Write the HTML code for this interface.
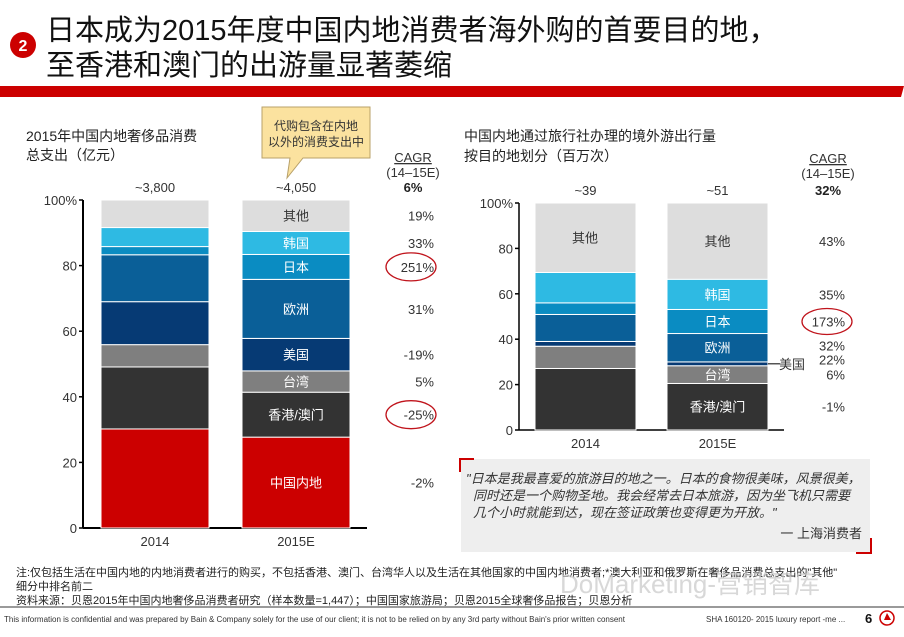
<!DOCTYPE html>
<html><head><meta charset="utf-8">
<style>
html,body{margin:0;padding:0;background:#fff;}
body{width:904px;height:637px;overflow:hidden;position:relative;font-family:"Liberation Sans","Noto Sans CJK SC",sans-serif;}
svg{position:absolute;left:0;top:0;}
text{font-family:"Liberation Sans","Noto Sans CJK SC",sans-serif;}
</style></head>
<body>
<svg id="s" width="904" height="637" viewBox="0 0 904 637">
  <circle cx="23" cy="45" r="13" fill="#cc0000"/>
  <text x="23" y="51" font-size="16" font-weight="bold" fill="#fff" text-anchor="middle">2</text>
  <text x="46" y="40" font-size="29" fill="#111">日本成为2015年度中国内地消费者海外购的首要目的地，</text>
  <text x="46" y="75" font-size="29" fill="#111">至香港和澳门的出游量显著萎缩</text>
  <polygon points="0,86 904,86 901,97 0,97" fill="#cc0000"/>

  <text x="26" y="141" font-size="14" fill="#222">2015年中国内地奢侈品消费</text>
  <text x="26" y="160" font-size="14" fill="#222">总支出（亿元）</text>
  <g>
    <path d="M262,107 H370 V158 H303 L287,178 L290,158 H262 Z" fill="#fbe29f" stroke="#b8a16a" stroke-width="1"/>
    <text x="316" y="130" font-size="12" fill="#333" text-anchor="middle">代购包含在内地</text>
    <text x="316" y="146" font-size="12" fill="#333" text-anchor="middle">以外的消费支出中</text>
  </g>
  <text x="413" y="162" font-size="13" fill="#333" text-anchor="middle" text-decoration="underline">CAGR</text>
  <text x="413" y="177" font-size="13" fill="#333" text-anchor="middle">(14–15E)</text>

  <text x="464" y="141" font-size="14" fill="#222">中国内地通过旅行社办理的境外游出行量</text>
  <text x="464" y="161" font-size="14" fill="#222">按目的地划分（百万次）</text>
  <text x="828" y="163" font-size="13" fill="#333" text-anchor="middle" text-decoration="underline">CAGR</text>
  <text x="828" y="178" font-size="13" fill="#333" text-anchor="middle">(14–15E)</text>

  <g id="left"></g>
  <g id="right"></g>

  <g>
    <rect x="461" y="459" width="409" height="93" fill="#eeeeee"/>
    <path d="M460,472 V459 H474" fill="none" stroke="#cc0000" stroke-width="2"/>
    <path d="M856,553 H871 V538" fill="none" stroke="#cc0000" stroke-width="2"/>
    <text x="466" y="483" font-size="13" font-style="italic" fill="#333">"日本是我最喜爱的旅游目的地之一。日本的食物很美味，风景很美，</text>
    <text x="473" y="500" font-size="13" font-style="italic" fill="#333">同时还是一个购物圣地。我会经常去日本旅游，因为坐飞机只需要</text>
    <text x="473" y="517" font-size="13" font-style="italic" fill="#333">几个小时就能到达，现在签证政策也变得更为开放。"</text>
    <text x="862" y="538" font-size="13" fill="#333" text-anchor="end">一 上海消费者</text>
  </g>

  <text x="16" y="576" font-size="11" fill="#222">注:仅包括生活在中国内地的内地消费者进行的购买，不包括香港、澳门、台湾华人以及生活在其他国家的中国内地消费者;*澳大利亚和俄罗斯在奢侈品消费总支出的"其他"</text>
  <text x="16" y="590" font-size="11" fill="#222">细分中排名前二</text>
  <text x="16" y="604" font-size="11" fill="#222">资料来源：贝恩2015年中国内地奢侈品消费者研究（样本数量=1,447）；中国国家旅游局；贝恩2015全球奢侈品报告；贝恩分析</text>
  <text x="560" y="593" font-size="26" fill="#c8c8c8" opacity="0.7">DoMarketing-营销智库</text>
  <rect x="0" y="606" width="904" height="2" fill="#9a9a9a"/>
  <text x="4" y="622" font-size="8" fill="#333">This information is confidential and was prepared by Bain &amp; Company solely for the use of our client; it is not to be relied on by any 3rd party without Bain's prior written consent</text>
  <text x="706" y="622" font-size="8" fill="#333">SHA    160120- 2015 luxury report -me ...</text>
  <text x="865" y="623" font-size="13" font-weight="bold" fill="#111">6</text>
  <circle cx="887" cy="618" r="7" fill="none" stroke="#cc0000" stroke-width="1.5"/>
  <polygon points="887,613 891,620 884,620" fill="#cc0000"/>
</svg>
<script>
// ---- Left chart data (luxury spend share %) ----
const leftYears = ["2014", "2015E"];
const leftSegments = ["中国内地", "香港/澳门", "台湾", "美国", "欧洲", "日本", "韩国", "其他"];
const leftValues2014 = [30.2, 18.9, 6.8, 13.1, 14.3, 2.5, 5.8, 8.4];
const leftValues2015 = [27.7, 13.7, 6.5, 9.9, 18.0, 7.6, 7.0, 9.6];
const leftTotals = ["~3,800", "~4,050"];
const leftCagr = ["-2%", "-25%", "5%", "-19%", "31%", "251%", "33%", "19%"];
const leftCagrTotal = "6%";
const leftTicks = [0, 20, 40, 60, 80, 100];

// ---- Right chart data (outbound trips share %) ----
const rightYears = ["2014", "2015E"];
const rightSegments = ["香港/澳门", "台湾", "美国", "欧洲", "日本", "韩国", "其他"];
const rightValues2014 = [27.1, 9.8, 2.1, 11.9, 5.1, 13.4, 30.6];
const rightValues2015 = [20.5, 7.8, 1.7, 12.5, 10.6, 13.3, 33.6];
const rightTotals = ["~39", "~51"];
const rightCagr = ["-1%", "6%", "22%", "32%", "173%", "35%", "43%"];
const rightCagrTotal = "32%";
const rightTicks = [0, 20, 40, 60, 80, 100];

const NS = "http://www.w3.org/2000/svg";
const colors = {"中国内地":"#cc0000","香港/澳门":"#333333","台湾":"#7f7f7f","美国":"#063a74","欧洲":"#0a5f98","日本":"#0a8cc2","韩国":"#2ebae3","其他":"#dddddd"};
function mk(parent, tag, attrs, txt) {
  const e = document.createElementNS(NS, tag);
  for (const k in attrs) e.setAttribute(k, attrs[k]);
  if (txt !== undefined) e.textContent = txt;
  parent.appendChild(e);
  return e;
}

function drawChart(g, cfg) {
  const y = v => cfg.y0 - (v / 100) * (cfg.y0 - cfg.y100);
  // axis
  const ax = mk(g, "line", {x1: cfg.axisX, y1: cfg.y100, x2: cfg.axisX, y2: cfg.y0, stroke: "#000", "stroke-width": cfg.axW});
  
  
  const bx = mk(g, "line", {x1: cfg.axisX, y1: cfg.y0, x2: cfg.axisEnd, y2: cfg.y0, stroke: "#000", "stroke-width": cfg.axW});
  
  
  cfg.ticks.forEach(t => {
    const tl = mk(g, "line", {x1: cfg.axisX - 4, y1: y(t), x2: cfg.axisX, y2: y(t), stroke: "#000", "stroke-width": 1.5});
    
    
    const tt = mk(g, "text", {x: cfg.axisX - 6, y: y(t) + 5, "font-size": 13, fill: "#333", "text-anchor": "end"}, t === 100 ? "100%" : String(t));
    
    
  });
  cfg.series.forEach((vals, i) => {
    const x = cfg.barX[i], w = cfg.barW;
    let acc = 0;
    vals.forEach((v, j) => {
      const seg = cfg.segs[j];
      const top = y(acc + v), bot = y(acc);
      const r = mk(g, "rect", {x: x, y: top, width: w, height: bot - top, fill: colors[seg], stroke: "#fff", "stroke-width": 1});
      
      
      if (cfg.labelBar[i] && cfg.labelSeg(seg)) {
        const dark = seg === "其他";
        const lt = mk(g, "text", {x: x + w / 2, y: (top + bot) / 2 + 5, "font-size": 13, fill: dark ? "#333" : "#fff", "text-anchor": "middle"}, seg);
        
        
      }
      acc += v;
    });
    const xl = mk(g, "text", {x: x + w / 2, y: cfg.y0 + 18, "font-size": 13, fill: "#333", "text-anchor": "middle"}, cfg.years[i]);
    
    
    const tot = mk(g, "text", {x: x + w / 2, y: cfg.y100 - 8, "font-size": 13, fill: "#333", "text-anchor": "middle"}, cfg.totals[i]);
    
    
  });
  const ct = mk(g, "text", {x: cfg.cagrX, y: cfg.y100 - 8, "font-size": 13, "font-weight": "bold", fill: "#222", "text-anchor": "middle"}, cfg.cagrTotal);
  
  
  return y;
}

// Left
const lg = document.getElementById("left");
const ly = drawChart(lg, {y0: 528, y100: 200, axisX: 83, axisEnd: 367, axW: 2, ticks: leftTicks,
  series: [leftValues2014, leftValues2015], segs: leftSegments, barX: [101, 242], barW: 108,
  labelBar: [false, true], labelSeg: s => true, years: leftYears, totals: leftTotals, cagrX: 413, cagrTotal: leftCagrTotal});
{
  let acc = 0;
  leftValues2015.forEach((v, j) => {
    const cy = ly(acc + v / 2);
    const t = mk(lg, "text", {x: 434, y: cy + 5, "font-size": 13, fill: "#333", "text-anchor": "end"}, leftCagr[j]);
    
    
    if (leftCagr[j] === "251%" || leftCagr[j] === "-25%") {
      const c = mk(lg, "ellipse", {cx: 411, cy: cy, rx: 25, ry: 14, fill: "none", stroke: "#c0141c", "stroke-width": 1.3});
      
      
    }
    acc += v;
  });
}

// Right
const rg = document.getElementById("right");
const ry = drawChart(rg, {y0: 430, y100: 203, axisX: 519, axisEnd: 784, axW: 1.5, ticks: rightTicks,
  series: [rightValues2014, rightValues2015], segs: rightSegments, barX: [535, 667], barW: 101,
  labelBar: [false, true], labelSeg: s => s !== "美国", years: rightYears, totals: rightTotals, cagrX: 828, cagrTotal: rightCagrTotal});
{
  // 2014 "其他" label
  const o = mk(rg, "text", {x: 585, y: ry(100 - rightValues2014[6] / 2) + 5, "font-size": 13, fill: "#333", "text-anchor": "middle"}, "其他");
  
  
  let acc = 0;
  const cagrY = [];
  rightValues2015.forEach(v => { cagrY.push(ry(acc + v / 2)); acc += v; });
  // spread crowded labels
  const ys = cagrY.slice();
  ys[1] = Math.min(ys[1], ys[0] - 31); ys[2] = ys[1] - 15; ys[3] = ys[2] - 14;
  rightValues2015.forEach((v, j) => {
    const t = mk(rg, "text", {x: 845, y: ys[j] + 5, "font-size": 13, fill: "#333", "text-anchor": "end"}, rightCagr[j]);
    
    
    if (rightCagr[j] === "173%") {
      const c = mk(rg, "ellipse", {cx: 827, cy: ys[j], rx: 25, ry: 13, fill: "none", stroke: "#c0141c", "stroke-width": 1.3});
      
      
    }
  });
  const usMid = ry(rightValues2015[0] + rightValues2015[1] + rightValues2015[2] / 2);
  const ln = mk(rg, "line", {x1: 768, y1: usMid, x2: 780, y2: usMid, stroke: "#000", "stroke-width": 1});
  
  
  const ul = mk(rg, "text", {x: 779, y: usMid + 5, "font-size": 13, fill: "#333"}, "美国");
  
  
}
</script>
</body></html>
